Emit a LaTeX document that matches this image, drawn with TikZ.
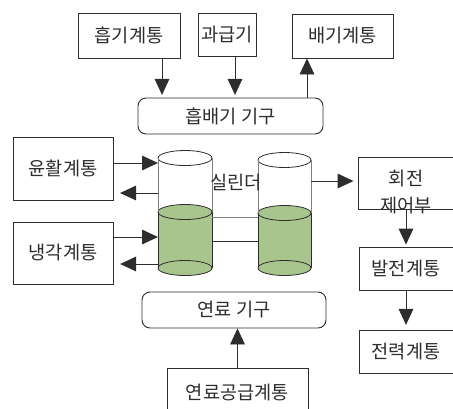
\documentclass[tikz,border=0pt]{standalone}
\usepackage{fontspec}
\newfontfamily\kr{Noto Sans CJK KR}
\usetikzlibrary{arrows.meta}
\definecolor{liquid}{RGB}{169,197,142}
\definecolor{ink}{RGB}{45,45,45}

\tikzset{
	box/.style={draw=ink, line width=0.7pt, inner sep=0pt},
	pipe/.style={draw=ink, rounded corners=6pt, line width=0.7pt, inner sep=0pt},
	arr/.style={draw=ink, line width=0.7pt, -{Triangle[length=12pt,width=11pt]}},
	every node/.style={font=\kr\fontsize{14}{20}\selectfont, text=ink},
}

\begin{document}
\begin{tikzpicture}[x=0.75pt, y=-0.75pt]
		\useasboundingbox (0,0) rectangle (453,408);

		\node[box, minimum width=76.5pt, minimum height=33.75pt] (intake) at (129, 35.5)	{흡기계통};
		\node[box, minimum width=43.5pt, minimum height=32.25pt] (turbo) at (227, 34.5)	{과급기};
		\node[box, minimum width=75.75pt, minimum height=33pt] (exhaust) at (342.5, 36)	{배기계통};
		\node[pipe, minimum width=138.75pt, minimum height=27pt] (gasex) at (230.5, 116)	{흡배기 기구};

		\node[box, minimum width=75pt, minimum height=47.25pt] (lube) at (63, 168.5)	{윤활계통};
		\node[box, minimum width=75pt, minimum height=46.5pt] (cool) at (63, 253)	{냉각계통};

		\node[box, minimum width=72pt, minimum height=39pt] (rotctl) at (406, 183)	{};
		\node[align=center] (rotlbl) at (406, 192)	{회전\\제어부};
		\node[box, minimum width=70.5pt, minimum height=32.25pt] (gen) at (406, 268.5)	{발전계통};
		\node[box, minimum width=70.5pt, minimum height=32.25pt] (power) at (406, 351.5)	{전력계통};

		\node[pipe, minimum width=138pt, minimum height=27pt] (fuel) at (234, 310)	{연료 기구};
		\node[box, minimum width=105.75pt, minimum height=36pt] (fuelsup) at (237.5, 392)	{연료공급계통};

		% the two cylinders, filled up to the level line
		\foreach \cx/\rx/\top/\lvl in {185/27/158/212, 284.5/26.5/160/213} {
			\fill[liquid] (\cx-\rx, \lvl) rectangle (\cx+\rx, 268);
			\fill[liquid] (\cx, 268) ellipse [x radius=\rx, y radius=7.5];
			\draw[ink, line width=0.6pt, fill=liquid] (\cx, \lvl) ellipse [x radius=\rx, y radius=7.5];
			\draw[ink, line width=0.6pt] (\cx, 268) ellipse [x radius=\rx, y radius=7.5];
			\draw[ink, line width=0.6pt, fill=white] (\cx, \top) ellipse [x radius=\rx, y radius=7.5];
			\draw[gray, line width=0.6pt] (\cx-\rx, \top) -- (\cx-\rx, \lvl) (\cx+\rx, \top) -- (\cx+\rx, \lvl);
			\draw[ink, line width=0.6pt] (\cx-\rx, \lvl) -- (\cx-\rx, 268) (\cx+\rx, \lvl) -- (\cx+\rx, 268);
		}
		\draw[gray, line width=0.6pt] (212, 217) -- (258, 217);
		\draw[ink, line width=0.6pt] (212, 241) -- (258, 241);
		\node (cyl) at (236, 183)	{실린더};

		\coordinate (ia) at (162, 0);
		\coordinate (ta) at (235, 0);
		\coordinate (ea) at (307, 0);
		\coordinate (lin) at (158, 163);
		\coordinate (lout) at (158, 193);
		\coordinate (cin) at (158, 237);
		\coordinate (cout) at (158, 264);
		\coordinate (rout) at (311, 181);

		\draw[arr, shorten >=2pt] (intake.south -| ia) -- (gasex.north -| ia);
		\draw[arr, shorten >=2pt] (turbo.south -| ta) -- (gasex.north -| ta);
		\draw[arr] (gasex.north -| ea) -- (exhaust.south -| ea);

		\draw[arr] (lube.east |- lin) -- (lin);
		\draw[arr, shorten >=5pt] (lout) -- (lube.east |- lout);
		\draw[arr] (cool.east |- cin) -- (cin);
		\draw[arr, shorten >=5pt] (cout) -- (cool.east |- cout);

		\draw[arr, shorten >=3pt] (rout) -- (rotctl.west |- rout);
		\draw[arr, shorten >=1.5pt] (rotctl.south) -- (gen.north);
		\draw[arr, shorten >=3.5pt] (gen.south) -- (power.north);
		\draw[arr] (fuelsup.north) -- (fuel.south -| fuelsup.north);
	\end{tikzpicture}
\end{document}
